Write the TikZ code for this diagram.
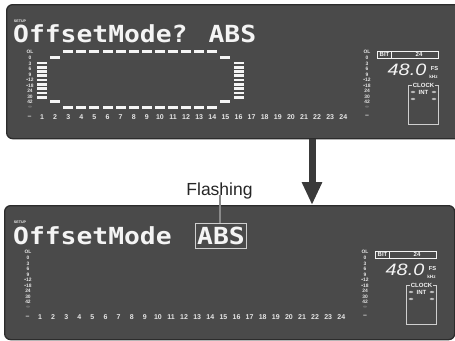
\documentclass[tikz,border=0pt]{standalone}
\usepackage{fontspec}
\setmainfont{Liberation Sans}
\newfontfamily\dispfont[FakeStretch=1.12]{DejaVu Sans Mono}
\newfontfamily\segfont[FakeStretch=1.2]{Liberation Sans}
\usetikzlibrary{arrows.meta}
\definecolor{panel}{HTML}{4A4A4A}
\definecolor{panelrim}{HTML}{2C2C2C}
\definecolor{lcd}{HTML}{F4F4F4}
\definecolor{lcdlbl}{HTML}{E6E6E6}
\definecolor{lcdfaint}{HTML}{8E8E8E}
\definecolor{lcdbox}{HTML}{CFCFCF}
\definecolor{arrowc}{HTML}{3A3A3A}
\definecolor{leader}{HTML}{8A8A8A}
\newcommand\paneldetails{%
  % left meter scale
  \foreach \lbl [count=\i from 0] in {OL,0,3,6,9,•12,•18,24,30,42}
    \node[mlbl] (lm\i) at (30,{52.3+\i*5.54}) {\lbl};
  \node[mlbl,text=lcdfaint] (lminf) at (30,107.7) {∞};
  % channel numbers
  \node[numlbl] (ndash) at (29.5,117) {–};
  \foreach \n in {1,...,24}
    \node[numlbl] (n\n) at ({42+(\n-1)*13.1},117) {\n};
  % right meter scale
  \foreach \lbl [count=\i from 0] in {OL,0,3,6,9,•12,•18,24,30,42}
    \node[mlbl] (rm\i) at (367,{52.3+\i*5.54}) {\lbl};
  \node[mlbl,text=lcdfaint] (rminf) at (367,107.7) {∞};
  \node[numlbl] (rdash) at (367,116.5) {–};
  % BIT box
  \node[bitbox] (bit) at (407.5,54.5) {};
  \draw[lcdline] (391.5,51) -- (391.5,58);
  \node[tinylbl] (bitl) at (384.5,54.7) {BIT};
  \node[tinylbl] (bitv) at (419,54.7) {24};
  % sampling rate
  \node[seglbl] (rate) at (407,75) {48.0};
  \node[tinylbl,font=\bfseries\fontsize{5.8}{5.8}\selectfont] (fs) at (434.5,68.5) {FS};
  \node[tinylbl,font=\bfseries\fontsize{4.6}{4.6}\selectfont] (khz) at (433.5,76.5) {kHz};
  % clock box
  \draw[lcdbox,line width=0.8] (408.5,85.5) rectangle (438.5,124.5);
  \node[tinylbl,fill=panel,inner xsep=0.8pt] (clk) at (423.5,85.5) {CLOCK};
  \node[tinylbl] (int) at (423.5,92) {INT};
  \foreach \ox/\oy in {413/92,434/92,413/99,434/99}
    \draw[lcd,line width=0.5] (\ox,\oy) ellipse [x radius=1.9,y radius=0.9];
}
\begin{document}
\begin{tikzpicture}[x=1pt,y=-1pt,
  panelbox/.style={fill=panel,draw=panelrim,line width=1.3,rounded corners=6,inner sep=0,anchor=north west},
  disp/.style={font=\dispfont\bfseries\fontsize{23.5}{23.5}\selectfont,text=lcd,inner sep=0},
  mlbl/.style={font=\bfseries\fontsize{4.9}{4.9}\selectfont,text=lcdlbl,inner sep=0},
  numlbl/.style={font=\bfseries\fontsize{7}{7}\selectfont,text=lcdlbl,inner sep=0},
  tinylbl/.style={font=\bfseries\fontsize{6}{6}\selectfont,text=lcd,inner sep=0},
  setuplbl/.style={font=\bfseries\fontsize{3.6}{3.6}\selectfont,text=lcd,inner sep=0},
  seglbl/.style={font=\segfont\itshape\fontsize{16.5}{16.5}\selectfont,text=lcd,inner sep=0,anchor=base},
  bitbox/.style={draw=lcd,line width=0.8,minimum width=61,minimum height=7,inner sep=0},
  lcdline/.style={draw=lcd,line width=0.8},
  absbox/.style={draw=lcdbox,line width=0.9,minimum width=51,minimum height=25,inner sep=0,
    font=\dispfont\bfseries\fontsize{23.5}{23.5}\selectfont,text=lcd,text height=17pt,text depth=0pt},
  bigarrow/.style={draw=arrowc,line width=7,-{Triangle[length=23pt,width=19pt,fill=arrowc]}},
  leaderline/.style={draw=leader,line width=2.2},
  lcdseg/.style={fill=lcd}
]
\useasboundingbox (0,0) rectangle (455,340);
\clip (0,0) rectangle (455,340);
\fill[white] (0,0) rectangle (455,340);

% ---------------- top panel ----------------
\node[panelbox,minimum width=470,minimum height=134] (top) at (6,4) {};
\node[setuplbl] (setup1) at (20,21.7) {SETUP};
\node[disp,anchor=base west] (msg1) at (13,42.5) {OffsetMode? ABS};
\begin{scope}[name prefix=top-]
  \paneldetails
\end{scope}
% dashed frame of segments
\foreach \c in {3,...,14} {
  \fill[lcdseg] ({42+(\c-1)*13.1-5},50) rectangle ++(10,3);
  \fill[lcdseg] ({42+(\c-1)*13.1-5},106) rectangle ++(10,3);
}
\foreach \c in {2,15} {
  \fill[lcdseg] ({42+(\c-1)*13.1-5},56) rectangle ++(10,3);
  \fill[lcdseg] ({42+(\c-1)*13.1-5},100) rectangle ++(10,3);
}
% level bars
\foreach \k in {0,...,8} {
  \fill[lcdseg] (37,{61.5+\k*4.3}) rectangle ++(10,2.7);
  \fill[lcdseg] (233.5,{61.5+\k*4.3}) rectangle ++(10,2.7);
}

% ---------------- bottom panel ----------------
\node[panelbox,minimum width=450,minimum height=134] (bot) at (4,205) {};
\node[setuplbl] (setup2) at (20,222.5) {SETUP};
\node[disp,anchor=base west] (msg2) at (13,244) {OffsetMode};
\node[absbox] (abs) at (221,235.5) {ABS};
\begin{scope}[shift={(-2,200)},name prefix=bot-]
  \paneldetails
\end{scope}

% ---------------- arrow and callout ----------------
\coordinate (ax) at (312,0);
\draw[bigarrow] (top.south -| ax) -- (bot.north -| ax);
\node[font=\fontsize{17.5}{17.5}\selectfont,text=black!85,anchor=base,inner sep=0] (flash) at (219.5,195) {Flashing};
\coordinate (lx) at (220,0);
\draw[leaderline] (flash.base -| lx) -- (abs.north -| lx);
\end{tikzpicture}
\end{document}
